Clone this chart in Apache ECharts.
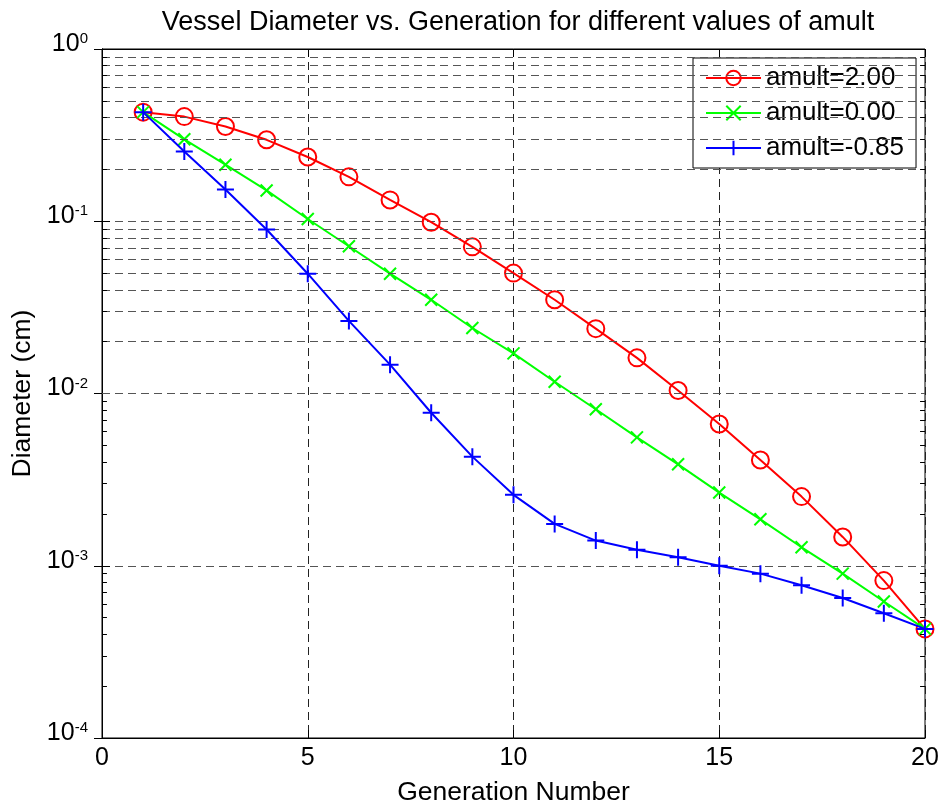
<!DOCTYPE html>
<html>
<head>
<meta charset="utf-8">
<script src="https://cdn.jsdelivr.net/npm/echarts@6/dist/echarts.min.js"></script>
<style>
html,body{margin:0;padding:0;background:#fff;}
#chart{width:946px;height:811px;}
</style>
</head>
<body>
<div id="chart"></div>
<script>
// ---- data ----
var generations = [1,2,3,4,5,6,7,8,9,10,11,12,13,14,15,16,17,18,19,20];
var amult200 = [0.430,0.405,0.355,0.297,0.236,0.181,0.133,0.0987,0.0710,0.0500,0.0350,0.0238,0.0161,0.0104,0.00665,0.00411,0.00252,0.00147,0.00082,0.00043];
var amult000 = [0.430,0.299,0.213,0.151,0.103,0.0716,0.0496,0.0350,0.0240,0.0171,0.0117,0.0081,0.00556,0.00388,0.00266,0.00186,0.00128,0.00090,0.00062,0.00043];
var amultNeg085 = [0.430,0.254,0.153,0.0895,0.0496,0.0264,0.0147,0.00773,0.00430,0.00258,0.00175,0.00140,0.00124,0.00112,0.00100,0.00090,0.00077,0.00065,0.00053,0.00043];
var seriesNames = ['amult=2.00','amult=0.00','amult=-0.85'];
var minorGridValues = [0.0002,0.0003,0.0004,0.0005,0.0006,0.0007,0.0008,0.0009,
                       0.002,0.003,0.004,0.005,0.006,0.007,0.008,0.009,
                       0.02,0.03,0.04,0.05,0.06,0.07,0.08,0.09,
                       0.2,0.3,0.4,0.5,0.6,0.7,0.8,0.9];
var xTicks = [0,5,10,15,20];
var xMin = 0, xMax = 20;
var titleText = 'Vessel Diameter vs. Generation for different values of amult';
var xName = 'Generation Number';
var yName = 'Diameter (cm)';

function pairs(ys){ return generations.map(function(g,i){ return [g, ys[i]]; }); }

var FONT = 'Liberation Sans, Arial, Helvetica, sans-serif';
var plusPath = 'path://M0,5L10,5M5,0L5,10';
var crossPath = 'path://M0,0L10,10M10,0L0,10';
var minorTickLen = 0.12; // length of the inside minor ticks, in x-axis units

var minorTickLines = [];
minorGridValues.forEach(function(v){
  minorTickLines.push([{coord:[xMin, v]},{coord:[xMin + minorTickLen, v]}]);
  minorTickLines.push([{coord:[xMax - minorTickLen, v]},{coord:[xMax, v]}]);
});

var chart = echarts.init(document.getElementById('chart'), null, {renderer:'canvas'});
var option = {
  backgroundColor:'#fff',
  animation:false,
  title:{
    text:titleText, left:513, top:4, textAlign:'center',
    textStyle:{fontFamily:FONT, fontSize:27, fontWeight:'normal', color:'#000'}
  },
  legend:{
    data:seriesNames,
    orient:'vertical',
    left:693, top:58,
    backgroundColor:'#fff',
    borderColor:'#000', borderWidth:1,
    padding:[7,12,7,12],
    itemWidth:55, itemHeight:18, itemGap:9,
    textStyle:{fontFamily:FONT, fontSize:26, color:'#000'}
  },
  grid:{left:102, right:21, top:49, bottom:68, show:true, borderColor:'#000', borderWidth:1, backgroundColor:'#fff'},
  xAxis:[{
    type:'value', min:xMin, max:xMax, interval:5,
    name:xName, nameLocation:'middle', nameGap:41,
    nameTextStyle:{fontFamily:FONT, fontSize:26.5, color:'#000'},
    axisLine:{show:true, lineStyle:{color:'#000', width:1}},
    axisTick:{show:true, inside:true, length:8, lineStyle:{color:'#000'}},
    axisLabel:{fontFamily:FONT, fontSize:25, color:'#000', margin:8,
      formatter:function(v){ return xTicks.indexOf(v)>=0 ? String(v) : ''; }},
    splitLine:{show:true, lineStyle:{color:'#222', type:[8,5], width:1}}
  },{
    type:'value', min:xMin, max:xMax, interval:5, position:'top',
    axisLine:{show:true, lineStyle:{color:'#000'}},
    axisTick:{show:true, inside:true, length:8, lineStyle:{color:'#000'}},
    axisLabel:{show:false}, splitLine:{show:false}
  }],
  yAxis:[{
    type:'log', min:0.0001, max:1, logBase:10,
    name:yName, nameLocation:'middle', nameGap:66,
    nameTextStyle:{fontFamily:FONT, fontSize:26.5, color:'#000'},
    axisLine:{show:true, lineStyle:{color:'#000', width:1}},
    axisTick:{show:true, inside:true, length:8, lineStyle:{color:'#000'}},
    axisLabel:{
      margin:14, padding:[0,0,10,0],
      formatter:function(v){
        var e = Math.round(Math.log(v)/Math.LN10);
        return '{b|10}{s|' + e + '}';
      },
      rich:{
        b:{fontFamily:FONT, fontSize:25, lineHeight:25, color:'#000', padding:[8,0,0,0], verticalAlign:'bottom'},
        s:{fontFamily:FONT, fontSize:15, lineHeight:16, color:'#000', verticalAlign:'top'}
      }
    },
    splitLine:{show:true, lineStyle:{color:'#555', type:[8,5], width:1}}
  },{
    type:'log', min:0.0001, max:1, logBase:10, position:'right',
    axisLine:{show:true, lineStyle:{color:'#000'}},
    axisTick:{show:true, inside:true, length:8, lineStyle:{color:'#000'}},
    axisLabel:{show:false}, splitLine:{show:false}
  }],
  series:[
    {
      name:'minor-grid', type:'line', data:[], silent:true,
      xAxisIndex:0, yAxisIndex:0,
      markLine:{
        silent:true, symbol:['none','none'], label:{show:false}, animation:false,
        lineStyle:{color:'#555', type:[8,5], width:1},
        data:minorGridValues.map(function(v){ return {yAxis:v}; })
      }
    },
    {
      name:'minor-ticks', type:'line', data:[], silent:true,
      xAxisIndex:0, yAxisIndex:0,
      markLine:{
        silent:true, symbol:['none','none'], label:{show:false}, animation:false,
        lineStyle:{color:'#000', type:'solid', width:1},
        data:minorTickLines
      }
    },
    {
      name:seriesNames[0], type:'line', data:pairs(amult200),
      symbol:'circle', symbolSize:17,
      lineStyle:{color:'#ff0000', width:2},
      itemStyle:{color:'rgba(255,0,0,0)', borderColor:'#ff0000', borderWidth:2},
      z:3
    },
    {
      name:seriesNames[1], type:'line', data:pairs(amult000),
      symbol:crossPath, symbolSize:12,
      lineStyle:{color:'#00ff00', width:2},
      itemStyle:{color:'#00ff00', borderColor:'#00ff00', borderWidth:2},
      z:4
    },
    {
      name:seriesNames[2], type:'line', data:pairs(amultNeg085),
      symbol:plusPath, symbolSize:17,
      lineStyle:{color:'#0000ff', width:2},
      itemStyle:{color:'#0000ff', borderColor:'#0000ff', borderWidth:2},
      z:5
    }
  ]
};
chart.setOption(option);
</script>
</body>
</html>
